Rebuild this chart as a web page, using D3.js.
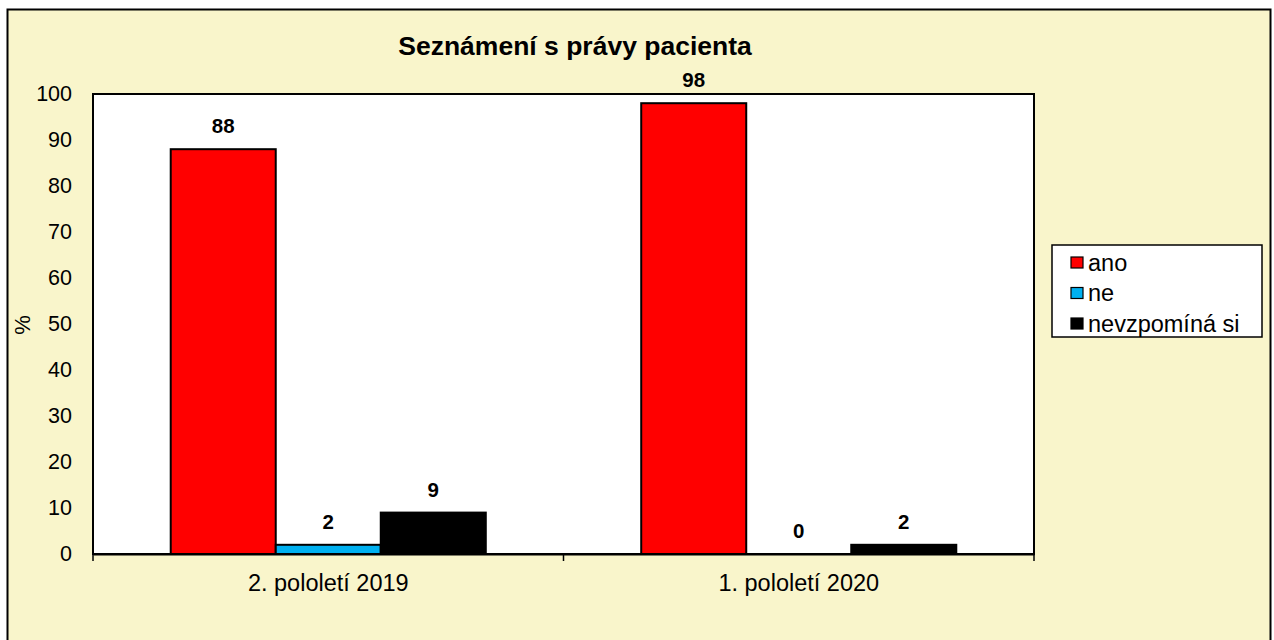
<!DOCTYPE html>
<html>
<head>
<meta charset="utf-8">
<script src="https://cdn.jsdelivr.net/npm/d3@7"></script>
<style>
  body { margin: 0; background: #fff; }
  text { font-family: "Liberation Sans", Arial, sans-serif; }
</style>
</head>
<body>
<div id="chart"></div>
<script>
// data
const categories = ["2. pololetí 2019", "1. pololetí 2020"];
const seriesNames = ["ano", "ne", "nevzpomíná si"];
const seriesColors = ["#ff0000", "#00b0f0", "#000000"];
const ano = [88, 98];
const ne = [2, 0];
const nevzpomina = [9, 2];
const yTicks = [0, 10, 20, 30, 40, 50, 60, 70, 80, 90, 100];

const W = 1274, H = 640;
const PLOT = {left: 93, right: 1034, top: 94, bottom: 554};

const svg = d3.select('#chart').append('svg')
  .attr('width', W).attr('height', H);

// outer chart area
svg.append('rect')
  .attr('x', 7.5).attr('y', 9.5)
  .attr('width', 1263).attr('height', 640)
  .attr('fill', '#f9f5cb')
  .attr('stroke', '#000').attr('stroke-width', 2);

// plot area
svg.append('rect')
  .attr('x', PLOT.left).attr('y', PLOT.top)
  .attr('width', PLOT.right - PLOT.left).attr('height', PLOT.bottom - PLOT.top)
  .attr('fill', '#fff')
  .attr('stroke', '#000').attr('stroke-width', 2);

const x0 = d3.scaleBand()
  .domain(categories)
  .range([PLOT.left, PLOT.right])
  .paddingInner(0).paddingOuter(0);

const x1 = d3.scaleBand()
  .domain(seriesNames)
  .range([0, x0.bandwidth()])
  .paddingOuter(0.74);

const y = d3.scaleLinear()
  .domain([0, 100])
  .range([PLOT.bottom, PLOT.top]);

// y axis labels
const yAxisG = svg.append('g')
  .attr('transform', `translate(${PLOT.left},0)`)
  .call(d3.axisLeft(y).tickValues(yTicks).tickSize(0).tickPadding(21));
yAxisG.attr('font-size', null);
yAxisG.select('.domain').remove();
yAxisG.selectAll('text')
  .attr('font-size', 21.5).attr('fill', '#000')
  .style('font-family', '"Liberation Sans", Arial, sans-serif');

// x axis
const xAxisG = svg.append('g')
  .attr('transform', `translate(0,${PLOT.bottom})`)
  .call(d3.axisBottom(x0).tickSize(0).tickPadding(20));
xAxisG.attr('font-size', null);
xAxisG.select('.domain').attr('stroke', '#000').attr('stroke-width', 2);
xAxisG.selectAll('text')
  .attr('font-size', 23.5).attr('fill', '#000')
  .style('font-family', '"Liberation Sans", Arial, sans-serif');

// category boundary ticks
const bounds = [PLOT.left, ...categories.slice(1).map(c => x0(c)), PLOT.right];
svg.append('g').selectAll('line')
  .data(bounds)
  .join('line')
  .attr('x1', d => d).attr('x2', d => d)
  .attr('y1', PLOT.bottom).attr('y2', PLOT.bottom + 7)
  .attr('stroke', '#000').attr('stroke-width', 1.5);

// bars
const rows = [];
categories.forEach((c, i) => {
  [ano, ne, nevzpomina].forEach((vals, j) => {
    rows.push({cat: c, series: seriesNames[j], value: vals[i], color: seriesColors[j]});
  });
});

svg.append('g').selectAll('rect')
  .data(rows.filter(d => d.value > 0))
  .join('rect')
  .attr('x', d => x0(d.cat) + x1(d.series))
  .attr('y', d => y(d.value))
  .attr('width', x1.bandwidth())
  .attr('height', d => y(0) - y(d.value))
  .attr('fill', d => d.color)
  .attr('stroke', '#000').attr('stroke-width', 2);

// value labels
svg.append('g').selectAll('text')
  .data(rows)
  .join('text')
  .attr('x', d => x0(d.cat) + x1(d.series) + x1.bandwidth() / 2)
  .attr('y', d => y(d.value) - 16)
  .attr('text-anchor', 'middle')
  .attr('font-size', 20.5).attr('font-weight', 'bold')
  .text(d => d.value);

// title
svg.append('text')
  .attr('x', 575).attr('y', 55)
  .attr('text-anchor', 'middle')
  .attr('font-size', 26.5).attr('font-weight', 'bold')
  .text('Seznámení s právy pacienta');

// y title
svg.append('text')
  .attr('transform', 'translate(30,325) rotate(-90)')
  .attr('text-anchor', 'middle')
  .attr('font-size', 22)
  .text('%');

// legend
const legend = svg.append('g');
legend.append('rect')
  .attr('x', 1052).attr('y', 245)
  .attr('width', 210).attr('height', 92)
  .attr('fill', '#fff').attr('stroke', '#000').attr('stroke-width', 1.5);

const ly = d3.scalePoint().domain(seriesNames).range([262, 323]);
const items = legend.selectAll('g.item')
  .data(seriesNames)
  .join('g').attr('class', 'item')
  .attr('transform', d => `translate(0,${ly(d)})`);
items.append('rect')
  .attr('x', 1071).attr('y', -5)
  .attr('width', 12).attr('height', 11)
  .attr('fill', (d, i) => seriesColors[i])
  .attr('stroke', '#000').attr('stroke-width', 1.2);
items.append('text')
  .attr('x', 1088).attr('y', 8.5)
  .attr('font-size', 23.5)
  .text(d => d);
</script>
</body>
</html>
